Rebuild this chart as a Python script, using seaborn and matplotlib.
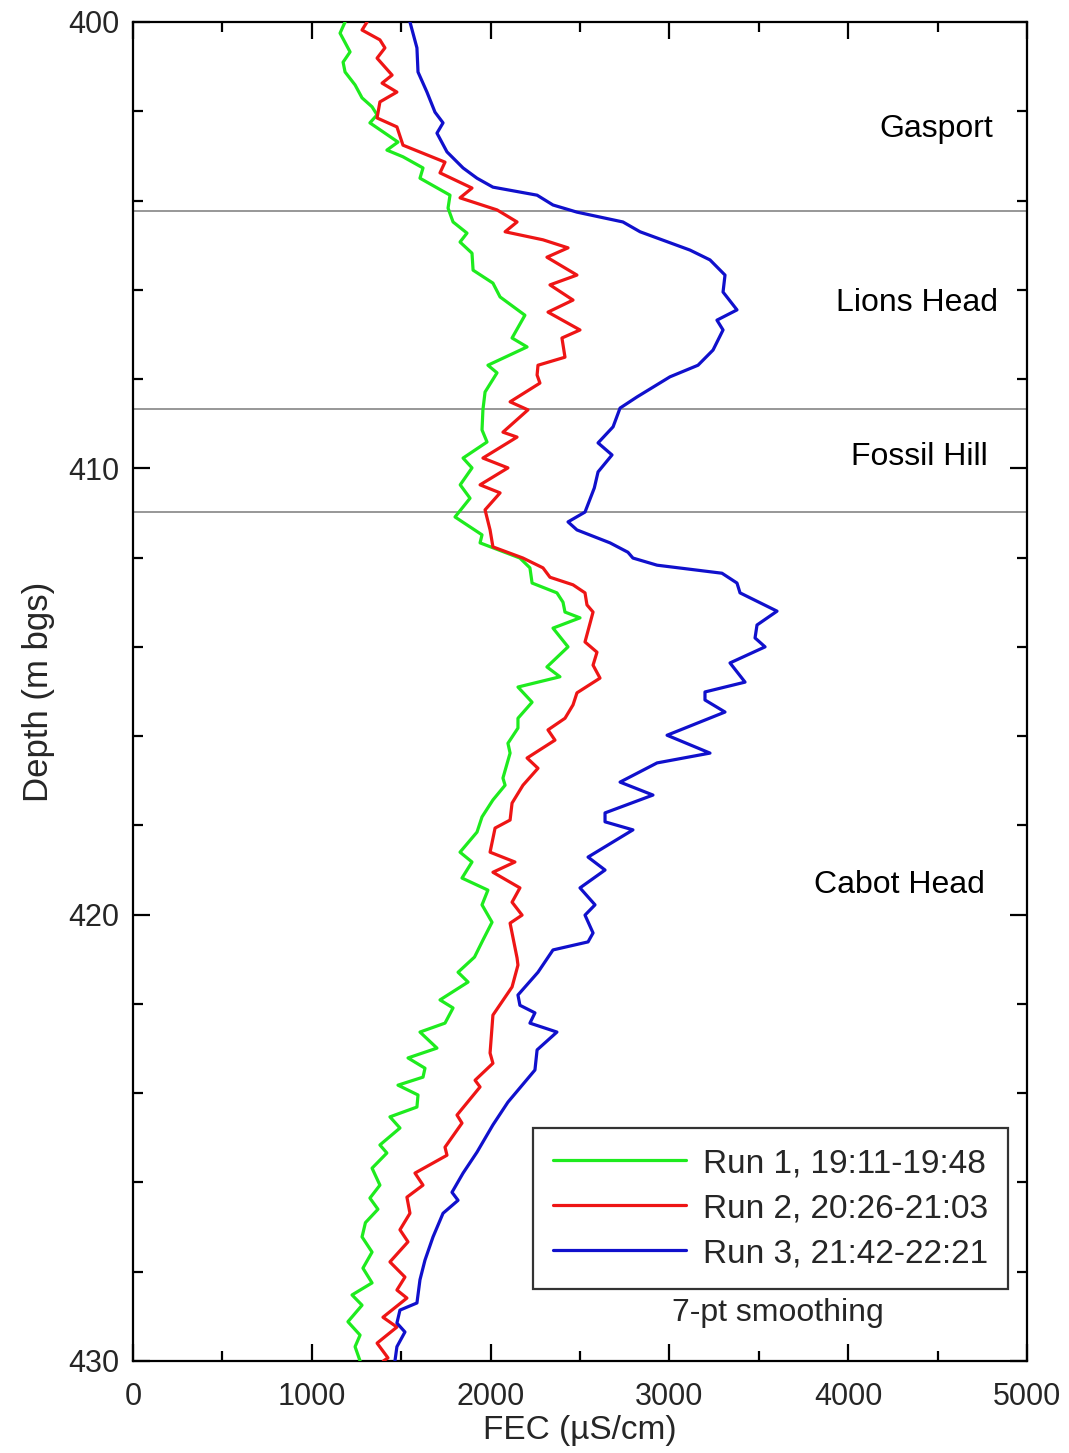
import numpy as np
import pandas as pd
import matplotlib
matplotlib.use("Agg")
import matplotlib.pyplot as plt
import seaborn as sns

# ---- data ----
run1_depth = [400.0, 400.25, 400.67, 400.9, 401.12, 401.41, 401.7, 401.9, 402.08, 402.26,
              402.69, 402.87, 403.02, 403.27, 403.5, 403.88, 404.17, 404.48, 404.73, 404.93,
              405.18, 405.56, 405.85, 406.16, 406.57, 407.08, 407.28, 407.69, 407.86, 408.29,
              408.69, 409.14, 409.41, 409.77, 409.99, 410.37, 410.67, 411.09, 411.49, 411.67,
              412.01, 412.23, 412.57, 412.79, 413.0, 413.22, 413.35, 413.58, 414.0, 414.45,
              414.67, 414.9, 415.24, 415.6, 415.82, 416.16, 416.38, 416.94, 417.1, 417.43,
              417.81, 418.15, 418.6, 418.82, 419.18, 419.45, 419.78, 420.17, 420.57, 420.95,
              421.29, 421.51, 421.91, 422.09, 422.43, 422.63, 422.99, 423.21, 423.44, 423.64,
              423.82, 424.04, 424.31, 424.53, 424.78, 425.16, 425.34, 425.68, 426.06, 426.35,
              426.6, 426.9, 427.22, 427.56, 427.92, 428.25, 428.52, 428.75, 429.12, 429.42,
              429.68, 430.0]
run1_fec = [1186, 1158, 1214, 1175, 1186, 1242, 1281, 1337, 1365, 1325,
            1482, 1420, 1510, 1622, 1605, 1773, 1762, 1790, 1868, 1829,
            1896, 1902, 2013, 2053, 2192, 2120, 2204, 1985, 2036, 1969,
            1957, 1952, 1980, 1846, 1896, 1830, 1885, 1801, 1952, 1941,
            2164, 2220, 2232, 2371, 2405, 2416, 2500, 2349, 2433, 2315,
            2388, 2153, 2232, 2153, 2153, 2097, 2109, 2069, 2081, 2013,
            1952, 1924, 1829, 1896, 1840, 1985, 1952, 2008, 1957, 1910,
            1818, 1874, 1717, 1790, 1745, 1605, 1700, 1538, 1633, 1622,
            1482, 1594, 1588, 1437, 1493, 1381, 1420, 1337, 1381, 1325,
            1370, 1300, 1281, 1337, 1286, 1337, 1225, 1281, 1202, 1270,
            1242, 1270]

run2_depth = [400.0, 400.18, 400.4, 400.58, 400.81, 401.19, 401.37, 401.57, 401.79, 402.15,
              402.35, 402.76, 403.14, 403.38, 403.72, 403.94, 404.21, 404.48, 404.7, 404.88,
              405.06, 405.27, 405.67, 405.89, 406.23, 406.5, 406.9, 407.08, 407.51, 407.69,
              407.91, 408.09, 408.51, 408.69, 409.19, 409.3, 409.77, 409.99, 410.37, 410.55,
              410.93, 411.38, 411.76, 412.01, 412.23, 412.44, 412.61, 412.79, 413.06, 413.22,
              413.89, 414.12, 414.41, 414.7, 415.03, 415.3, 415.6, 415.86, 416.09, 416.49,
              416.72, 417.1, 417.5, 417.88, 418.06, 418.6, 418.82, 419.05, 419.4, 419.72,
              420.01, 420.19, 420.97, 421.13, 421.62, 422.25, 423.1, 423.33, 423.71, 423.86,
              424.49, 424.67, 425.21, 425.39, 425.79, 426.06, 426.33, 426.69, 427.06, 427.33,
              427.78, 428.12, 428.41, 428.59, 429.02, 429.24, 429.6, 429.93, 430.0]
run2_fec = [1309, 1281, 1381, 1409, 1365, 1449, 1393, 1476, 1381, 1365,
            1476, 1510, 1745, 1717, 1896, 1829, 2036, 2148, 2081, 2293,
            2433, 2315, 2483, 2332, 2461, 2321, 2500, 2399, 2416, 2265,
            2260, 2276, 2109, 2209, 2069, 2148, 1957, 2097, 1941, 2053,
            1969, 1997, 2013, 2181, 2293, 2332, 2461, 2528, 2539, 2573,
            2528, 2595, 2573, 2612, 2483, 2461, 2416, 2321, 2360, 2204,
            2265, 2181, 2120, 2109, 2025, 1997, 2136, 2013, 2164, 2120,
            2176, 2109, 2148, 2153, 2120, 2013, 1997, 2013, 1913, 1941,
            1812, 1840, 1745, 1756, 1577, 1622, 1532, 1549, 1493, 1538,
            1437, 1521, 1476, 1532, 1398, 1476, 1365, 1426, 1400]

run3_depth = [400.0, 400.58, 401.12, 401.57, 402.02, 402.26, 402.49, 402.91, 403.27, 403.5,
              403.7, 403.88, 404.1, 404.26, 404.48, 404.7, 405.11, 405.33, 405.67, 406.05,
              406.45, 406.68, 406.9, 407.35, 407.69, 407.95, 408.4, 408.65, 409.07, 409.43,
              409.7, 410.08, 410.44, 410.98, 411.2, 411.38, 411.67, 411.88, 412.01, 412.17,
              412.35, 412.57, 412.79, 413.2, 413.51, 413.8, 414.0, 414.36, 414.79, 415.01,
              415.19, 415.46, 415.98, 416.38, 416.6, 417.03, 417.32, 417.72, 417.92, 418.1,
              418.71, 419.0, 419.4, 419.78, 420.01, 420.41, 420.61, 420.79, 421.29, 421.8,
              422.03, 422.2, 422.43, 422.63, 423.03, 423.48, 424.2, 424.71, 425.32, 425.79,
              426.22, 426.4, 426.69, 427.22, 427.74, 428.18, 428.7, 428.86, 429.15, 429.35,
              429.68, 430.0]
run3_fec = [1549, 1588, 1594, 1644, 1689, 1734, 1700, 1756, 1846, 1924,
            2013, 2260, 2349, 2483, 2740, 2836, 3115, 3227, 3311, 3300,
            3378, 3266, 3300, 3244, 3160, 3003, 2819, 2724, 2685, 2601,
            2679, 2601, 2580, 2528, 2433, 2483, 2668, 2768, 2796, 2931,
            3294, 3378, 3395, 3602, 3490, 3479, 3535, 3339, 3423, 3199,
            3199, 3311, 2987, 3227, 2931, 2724, 2908, 2640, 2640, 2796,
            2545, 2640, 2500, 2584, 2528, 2573, 2545, 2349, 2265, 2153,
            2164, 2248, 2220, 2371, 2260, 2248, 2097, 2013, 1924, 1846,
            1784, 1818, 1734, 1678, 1633, 1605, 1588, 1493, 1476, 1521,
            1476, 1465]

run_labels = ["Run 1, 19:11-19:48", "Run 2, 20:26-21:03", "Run 3, 21:42-22:21"]
run_colors = ["#1EEB1E", "#EE1515", "#1010CC"]

boundaries = [404.23, 408.67, 410.98]
unit_names = ["Gasport", "Lions Head", "Fossil Hill", "Cabot Head"]
unit_x = [4810, 4838, 4782, 4765]
unit_y = [402.40, 406.30, 409.75, 419.34]

x_ticks = [0, 1000, 2000, 3000, 4000, 5000]
y_ticks = [400, 410, 420, 430]

# ---- build long table ----
frames = []
for lab, d, v in zip(run_labels, [run1_depth, run2_depth, run3_depth],
                     [run1_fec, run2_fec, run3_fec]):
    frames.append(pd.DataFrame({"Depth": d, "FEC": v, "Run": lab}))
df = pd.concat(frames, ignore_index=True)

sns.set_style("ticks")
plt.rcParams["font.family"] = ["Liberation Sans", "DejaVu Sans"]

fig = plt.figure(figsize=(10.69, 14.53), dpi=100)
ax = fig.add_axes([133 / 1069, 1 - 1361 / 1453, (1027 - 133) / 1069, (1361 - 22) / 1453])

for y in boundaries:
    ax.axhline(y, color="#7a7a7a", lw=1.1, zorder=1)

sns.lineplot(data=df, x="FEC", y="Depth", hue="Run", palette=dict(zip(run_labels, run_colors)),
             orient="y", estimator=None, sort=True, lw=2.3, ax=ax, zorder=3)

ax.set_xlim(0, 5000)
ax.set_ylim(430, 400)
ax.set_xticks(x_ticks)
ax.set_yticks(y_ticks)
ax.set_xticks(np.array(x_ticks[:-1]) + 500, minor=True)
ax.set_yticks([402, 404, 406, 408, 412, 414, 416, 418, 422, 424, 426, 428], minor=True)
ax.tick_params(which="both", direction="in", top=True, right=True, labelsize=22,
               width=1.6, color="black")
ax.tick_params(which="major", length=12)
ax.tick_params(which="minor", length=7)
ax.tick_params(axis="x", which="major", pad=15)
ax.tick_params(axis="y", which="major", pad=10)
for s in ax.spines.values():
    s.set_linewidth(1.6)
    s.set_color("black")

ax.set_xlabel("FEC (µS/cm)", fontsize=24, labelpad=2)
ax.set_ylabel("Depth (m bgs)", fontsize=25, labelpad=9)

for name, x, y in zip(unit_names, unit_x, unit_y):
    ax.text(x, y, name, fontsize=23, ha="right", va="center", color="black")

ax.text(3607, 428.93, "7-pt smoothing", fontsize=23, ha="center", va="center")

leg = ax.legend(loc="upper left", bbox_to_anchor=(0.447, 0.174), fontsize=24,
                frameon=True, fancybox=False, edgecolor="black", handlelength=4.0,
                borderpad=0.6, labelspacing=0.42, handletextpad=0.5, borderaxespad=0)
leg.get_frame().set_linewidth(1.6)
leg.set_title(None)
for line in leg.get_lines():
    line.set_linewidth(2.3)

fig.savefig("out.png", dpi=100)
